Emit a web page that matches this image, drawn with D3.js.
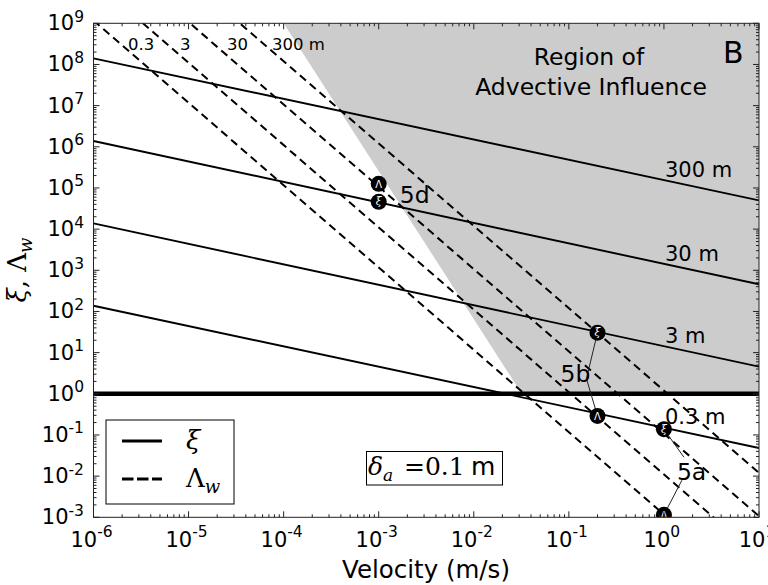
<!DOCTYPE html>
<html><head><meta charset="utf-8">
<script src="https://cdn.jsdelivr.net/npm/d3@7"></script>
<style>body{margin:0;background:#fff}svg{display:block}</style>
</head><body><svg id="chart" width="768" height="585"></svg>
<script>
// ---------------- data ----------------
const velocityDomain = [1e-6, 10];
const valueDomain = [1e-3, 1e9];
const xTickExps = [-6, -5, -4, -3, -2, -1, 0, 1];
const yTickExps = [-3, -2, -1, 0, 1, 2, 3, 4, 5, 6, 7, 8, 9];
// xi (solid) lines, value at v = 1e-6 and v = 10
const xiLabels = ["0.3 m", "3 m", "30 m", "300 m"];
const xiStart = [1.38e2, 1.38e4, 1.38e6, 1.41e8];
const xiEnd = [4.8e-2, 4.57, 4.57e2, 5.0e4];
// Lambda_w (dashed) lines, value at v = 1e-6 and v = 10
const lambdaLabels = ["0.3", "3", "30", "300 m"];
const lambdaStart = [1.17e9, 1.10e10, 1.07e11, 1.2e12];
const lambdaEnd = [1.17e-5, 1.10e-4, 1.07e-3, 1.2e-2];
// region of advective influence (polygon)
const regionVelocity = [1e-4, 10, 10, 0.032];
const regionValue = [1e9, 1e9, 1, 1];
const thresholdValue = 1;
// cases
const caseNames = ["5d", "5b", "5a"];
const caseVelocity = [1e-3, 0.2, 1.0];
const caseXi = [4.6e4, 30.5, 0.138];
const caseLambda = [1.26e5, 0.29, 1.15e-3];

// ---------------- layout ----------------
const svg = d3.select("#chart");
const L = 93.5, R = 759, T = 23.3, B = 517.3;
const x = d3.scaleLog().domain(velocityDomain).range([L, R]);
const y = d3.scaleLog().domain(valueDomain).range([B, T]);
const sans = "'DejaVu Sans', 'Bitstream Vera Sans', sans-serif";
const serif = "'DejaVu Serif', 'Liberation Serif', serif";

svg.append("rect").attr("width", 768).attr("height", 585).attr("fill", "#fff");
svg.append("clipPath").attr("id", "plotclip").append("rect")
  .attr("x", L).attr("y", T).attr("width", R - L).attr("height", B - T);
const plot = svg.append("g").attr("clip-path", "url(#plotclip)");

// gray region
plot.append("path")
  .datum(regionVelocity.map((v, i) => [v, regionValue[i]]))
  .attr("d", d3.line().x(d => x(d[0])).y(d => y(d[1])).curve(d3.curveLinearClosed))
  .attr("fill", "#cccccc").attr("stroke", "none");

const lineGen = d3.line().x(d => x(d[0])).y(d => y(d[1]));
// xi lines
xiStart.forEach((s, i) => {
  plot.append("path").datum([[velocityDomain[0], s], [velocityDomain[1], xiEnd[i]]])
    .attr("d", lineGen).attr("fill", "none").attr("stroke", "#000").attr("stroke-width", 1.9);
});
// lambda lines
lambdaStart.forEach((s, i) => {
  plot.append("path").datum([[velocityDomain[0], s], [velocityDomain[1], lambdaEnd[i]]])
    .attr("d", lineGen).attr("fill", "none").attr("stroke", "#000").attr("stroke-width", 2)
    .attr("stroke-dasharray", "8,5");
});
// threshold
plot.append("path").datum([[velocityDomain[0], thresholdValue], [velocityDomain[1], thresholdValue]])
  .attr("d", lineGen).attr("stroke", "#000").attr("stroke-width", 4.5);

// annotation connectors
function ann(pts) {
  plot.append("path").datum(pts).attr("d", d3.line()).attr("fill", "none")
    .attr("stroke", "#222").attr("stroke-width", 1);
}
const cxs = caseVelocity.map(v => x(v));
// 5b
ann([[cxs[1], y(caseXi[1])], [cxs[1] - 11, y(caseXi[1]) + 46], [cxs[1], y(caseLambda[1])]]);
// 5a
ann([[cxs[2], y(caseXi[2])], [cxs[2] + 20, y(caseXi[2]) + 28]]);
ann([[cxs[2] + 18, y(caseXi[2]) + 51], [cxs[2], y(caseLambda[2])]]);

// markers
caseVelocity.forEach((v, i) => {
  const g1 = plot.append("g").attr("transform", `translate(${x(v)},${y(caseLambda[i])})`);
  g1.append("circle").attr("r", 8).attr("fill", "#000");
  g1.append("text").attr("text-anchor", "middle").attr("y", 3.8).attr("fill", "#fff")
    .attr("font-family", sans).attr("font-size", 10).text("Λ");
  const g2 = plot.append("g").attr("transform", `translate(${x(v)},${y(caseXi[i])})`);
  g2.append("circle").attr("r", 8).attr("fill", "#000");
  g2.append("text").attr("text-anchor", "middle").attr("y", 3.5).attr("fill", "#fff")
    .attr("font-family", serif).attr("font-style", "italic").attr("font-size", 10.5).text("ξ");
});

// case labels
const caseLabelPos = [[x(caseVelocity[0]) + 21, 203], [x(caseVelocity[1]) - 37, 382], [x(caseVelocity[2]) + 13, 480]];
caseNames.forEach((n, i) => {
  svg.append("text").attr("x", caseLabelPos[i][0]).attr("y", caseLabelPos[i][1])
    .attr("font-family", sans).attr("font-size", 23.5).attr("fill", "#000").text(n);
});

// xi line labels
const xiLabelX = 665;
const frac = (Math.log10(x.invert(xiLabelX + 30)) + 6) / 7;
xiLabels.forEach((lab, i) => {
  const lv = Math.log10(xiStart[i]) + (Math.log10(xiEnd[i]) - Math.log10(xiStart[i])) * frac;
  svg.append("text").attr("x", xiLabelX).attr("y", y(Math.pow(10, lv)) - 10)
    .attr("font-family", sans).attr("font-size", 21).text(lab);
});
// lambda labels (top)
const lambdaLabelX = [128, 180, 227, 272];
lambdaLabels.forEach((lab, i) => {
  svg.append("text").attr("x", lambdaLabelX[i]).attr("y", 50)
    .attr("font-family", sans).attr("font-size", 16.5).text(lab);
});

// region text
svg.append("text").attr("x", 589).attr("y", 65).attr("text-anchor", "middle")
  .attr("font-family", sans).attr("font-size", 23.5).text("Region of");
svg.append("text").attr("x", 591).attr("y", 95).attr("text-anchor", "middle")
  .attr("font-family", sans).attr("font-size", 23.5).text("Advective Influence");
svg.append("text").attr("x", 723).attr("y", 63)
  .attr("font-family", sans).attr("font-size", 30).text("B");

// frame
svg.append("rect").attr("x", L).attr("y", T).attr("width", R - L).attr("height", B - T)
  .attr("fill", "none").attr("stroke", "#222").attr("stroke-width", 1);

// ticks (inward, all sides)
const tg = svg.append("g").attr("stroke", "#222").attr("stroke-width", 1);
function minors(exps) {
  const out = [];
  for (let k = 0; k < exps.length - 1; k++) for (let m = 2; m <= 9; m++) out.push(m * Math.pow(10, exps[k]));
  return out;
}
xTickExps.forEach(e => {
  const px = x(Math.pow(10, e));
  tg.append("line").attr("x1", px).attr("x2", px).attr("y1", B).attr("y2", B - 6);
  tg.append("line").attr("x1", px).attr("x2", px).attr("y1", T).attr("y2", T + 6);
});
minors(xTickExps).forEach(v => {
  const px = x(v);
  tg.append("line").attr("x1", px).attr("x2", px).attr("y1", B).attr("y2", B - 3);
  tg.append("line").attr("x1", px).attr("x2", px).attr("y1", T).attr("y2", T + 3);
});
yTickExps.forEach(e => {
  const py = y(Math.pow(10, e));
  tg.append("line").attr("x1", L).attr("x2", L + 6).attr("y1", py).attr("y2", py);
  tg.append("line").attr("x1", R).attr("x2", R - 6).attr("y1", py).attr("y2", py);
});
minors(yTickExps).forEach(v => {
  const py = y(v);
  tg.append("line").attr("x1", L).attr("x2", L + 3).attr("y1", py).attr("y2", py);
  tg.append("line").attr("x1", R).attr("x2", R - 3).attr("y1", py).attr("y2", py);
});

// tick labels
xTickExps.forEach(e => {
  const t = svg.append("text").attr("x", x(Math.pow(10, e)) - 2).attr("y", 547).attr("text-anchor", "middle")
    .attr("font-family", sans).attr("font-size", 21).attr("fill", "#000");
  t.append("tspan").text("10");
  t.append("tspan").attr("dy", -10).attr("font-size", 15.5).text(String(e));
});
yTickExps.forEach(e => {
  const t = svg.append("text").attr("x", 84).attr("y", y(Math.pow(10, e)) + 7).attr("text-anchor", "end")
    .attr("font-family", sans).attr("font-size", 21).attr("fill", "#000");
  t.append("tspan").text("10");
  t.append("tspan").attr("dy", -8.5).attr("font-size", 15.5).text(String(e));
});

// axis labels
svg.append("text").attr("x", 426).attr("y", 578).attr("text-anchor", "middle")
  .attr("font-family", sans).attr("font-size", 24.5).text("Velocity (m/s)");
const yl = svg.append("text").attr("transform", "translate(26,270) rotate(-90)").attr("text-anchor", "middle")
  .attr("font-family", serif).attr("font-size", 26);
yl.append("tspan").attr("font-style", "italic").text("ξ");
yl.append("tspan").text(", Λ");
yl.append("tspan").attr("font-style", "italic").attr("font-size", 18).attr("dy", 6).text("w");

// legend
svg.append("rect").attr("x", 106).attr("y", 420).attr("width", 128).attr("height", 84)
  .attr("fill", "#fff").attr("stroke", "#000").attr("stroke-width", 1);
svg.append("line").attr("x1", 122).attr("x2", 162).attr("y1", 441).attr("y2", 441)
  .attr("stroke", "#000").attr("stroke-width", 3);
svg.append("line").attr("x1", 122).attr("x2", 162).attr("y1", 479).attr("y2", 479)
  .attr("stroke", "#000").attr("stroke-width", 3).attr("stroke-dasharray", "11.5,3.5");
svg.append("text").attr("x", 186).attr("y", 449).attr("font-family", serif).attr("font-style", "italic")
  .attr("font-size", 26).text("ξ");
const lw = svg.append("text").attr("x", 186).attr("y", 487).attr("font-family", serif).attr("font-size", 26);
lw.append("tspan").text("Λ");
lw.append("tspan").attr("font-style", "italic").attr("font-size", 18).attr("dy", 6).text("w");

// delta box
svg.append("rect").attr("x", 366.5).attr("y", 451.5).attr("width", 136).attr("height", 33.5)
  .attr("fill", "#fff").attr("stroke", "#000").attr("stroke-width", 1);
const dt = svg.append("text").attr("x", 368).attr("y", 475).attr("font-family", serif).attr("font-size", 25);
dt.append("tspan").attr("font-style", "italic").text("δ");
dt.append("tspan").attr("font-style", "italic").attr("font-size", 17).attr("dy", 6).text("a");
dt.append("tspan").attr("dy", -6).attr("x", 404).text("=0.1");
dt.append("tspan").attr("x", 471).attr("font-family", sans).text("m");
</script></body></html>
